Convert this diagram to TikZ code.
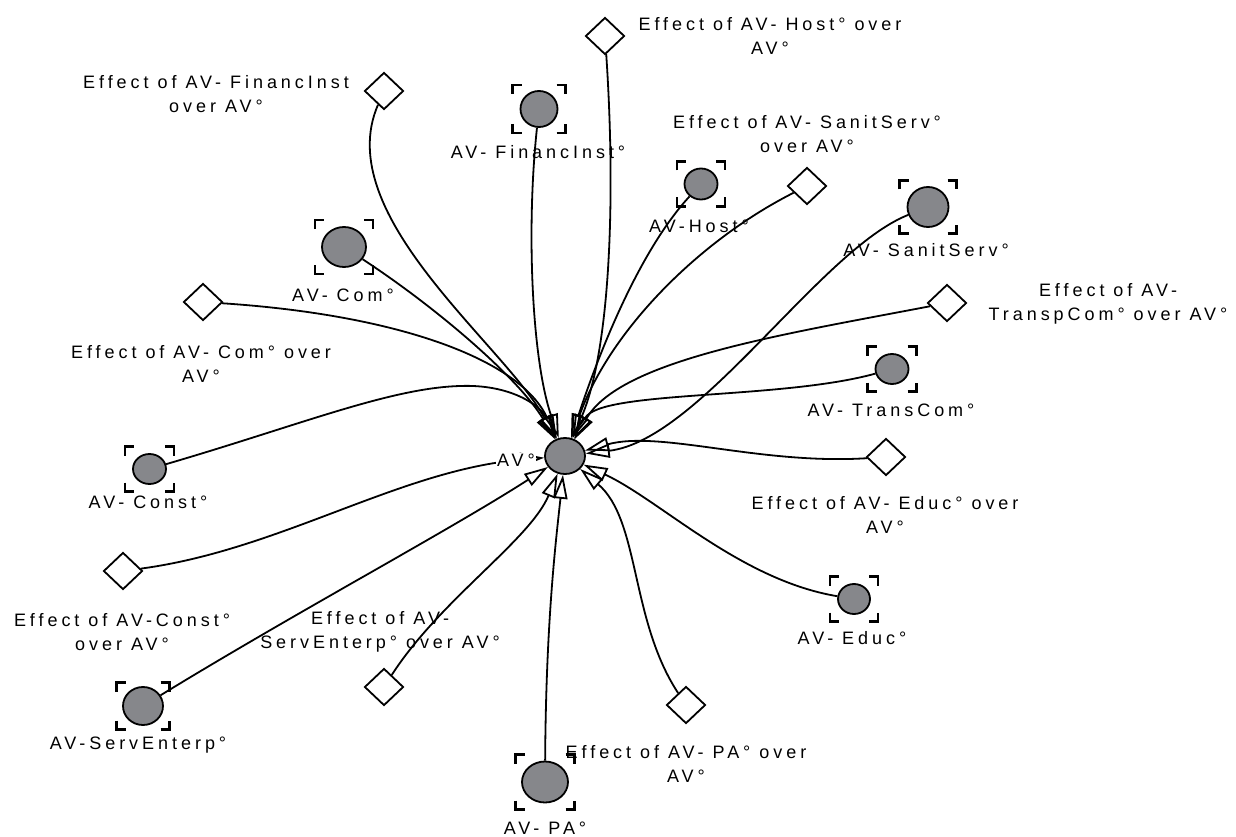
\documentclass[tikz,border=0pt]{standalone}
\usepackage{fontspec}
\setmainfont{Liberation Sans}
\usetikzlibrary{arrows.meta,shapes.geometric}
\definecolor{nodegray}{RGB}{134,135,139}
\newcommand\lblfont{\fontsize{18}{24}\selectfont\addfontfeatures{LetterSpace=22}}
\tikzset{
  avc/.style={ellipse, draw, line width=1.8pt, fill=nodegray, inner sep=0pt},
  dia/.style={diamond, draw, line width=1.8pt, fill=white, minimum width=39pt, minimum height=37pt, inner sep=0pt},
  brk/.style={line width=2.2pt},
  lbl/.style={font=\lblfont, align=center, inner sep=0pt},
  link/.style={line width=1.8pt, -{Triangle[open, length=24pt, width=14pt, line width=1.8pt]}},
  clab/.style={font=\lblfont, fill=white, inner sep=1pt},
}
% #1 name, #2 x, #3 y, #4 w, #5 h, #6 bracket half width, #7 bracket half height
\newcommand\avnode[7]{%
  \node[avc, minimum width=#4pt, minimum height=#5pt] (#1) at (#2,#3) {};
  \begin{scope}[shift={(#1.center)}]
    \draw[brk] (-#6,-#7+9) -- (-#6,-#7) -- (-#6+9,-#7);
    \draw[brk] (#6-9,-#7) -- (#6,-#7) -- (#6,-#7+9);
    \draw[brk] (-#6,#7-9) -- (-#6,#7) -- (-#6+9,#7);
    \draw[brk] (#6-9,#7) -- (#6,#7) -- (#6,#7-9);
  \end{scope}}
\begin{document}
\begin{tikzpicture}[x=1pt,y=-1pt]
\useasboundingbox (0,0) rectangle (1236,837);
% centre
\node[avc, minimum width=40pt, minimum height=36pt] (c) at (565,456) {};
% circle nodes
\avnode{fin}{539}{109}{37}{36}{26.5}{24}
\avnode{host}{701}{184}{33}{31}{24}{22.5}
\avnode{san}{928}{207}{41}{40}{28.5}{26.5}
\avnode{com}{344}{247}{44}{40}{29}{27}
\avnode{trans}{892}{369}{33}{30}{24.5}{22.5}
\avnode{const}{149.5}{469}{33}{30}{24.5}{22.5}
\avnode{educ}{854}{599}{32}{30}{24}{22.5}
\avnode{serv}{143}{706}{40}{38}{26.5}{23.5}
\avnode{pa}{545}{782}{46}{41}{29.5}{27.5}
% circle labels
\node[lbl] (fin-l) at (538,152) {AV- FinancInst°};
\node[lbl] (host-l) at (699,226) {AV-Host°};
\node[lbl] (san-l) at (926,250) {AV- SanitServ°};
\node[lbl] (com-l) at (343,295) {AV- Com°};
\node[lbl] (trans-l) at (891,410) {AV- TransCom°};
\node[lbl] (const-l) at (148,502) {AV- Const°};
\node[lbl] (educ-l) at (852,638) {AV- Educ°};
\node[lbl] (serv-l) at (138,745) {AV-ServEnterp°};
\node[lbl] (pa-l) at (545,828) {AV- PA°};
% diamonds
\node[dia] (hdia) at (605,36) {};
\node[dia] (fdia) at (384,91) {};
\node[dia] (sdia) at (807,186) {};
\node[dia] (cdia) at (203,302) {};
\node[dia] (tdia) at (947,303) {};
\node[dia] (edia) at (886,457) {};
\node[dia] (kdia) at (123,571) {};
\node[dia] (sedia) at (384,687) {};
\node[dia] (pdia) at (686,705) {};
% diamond labels
\node[lbl] (hdia-l) at (770,36) {Effect of AV- Host° over\\AV°};
\node[lbl] (fdia-l) at (216,94) {Effect of AV- FinancInst\\over AV°};
\node[lbl] (sdia-l) at (807,134) {Effect of AV- SanitServ°\\over AV°};
\node[lbl] (cdia-l) at (201,364) {Effect of AV- Com° over\\AV°};
\node[lbl] (tdia-l) at (1108,304) {Effect of AV-\\TranspCom° over AV°};
\node[lbl] (edia-l) at (885,515) {Effect of AV- Educ° over\\AV°};
\node[lbl] (kdia-l) at (122,632) {Effect of AV-Const°\\over AV°};
\node[lbl] (sedia-l) at (380,632) {Effect of AV-\\ServEnterp° over AV°};
\node[lbl] (pdia-l) at (686,764) {Effect of AV- PA° over\\AV°};
% connectors
\draw[link] (fdia) .. controls (330,215) and (505,345) .. (c);
\draw[link] (fin) .. controls (526,230) and (532,360) .. (c);
\draw[link] (hdia) .. controls (616,200) and (610,350) .. (c);
\draw[link] (host) .. controls (640,250) and (600,350) .. (c);
\draw[link] (sdia) .. controls (700,240) and (610,330) .. (c);
\draw[link] (san) .. controls (820,250) and (700,440) .. (c);
\draw[link] (com) .. controls (440,310) and (520,380) .. (c);
\draw[link] (cdia) .. controls (400,315) and (520,360) .. (c);
\draw[link] (const) .. controls (300,425) and (390,388) .. (460,386) .. controls (510,384) and (540,405) .. (c);
\draw[link] (kdia) .. controls (280,550) and (400,470) .. (c);
\draw[link] (serv) .. controls (300,610) and (450,530) .. (c);
\draw[link] (sedia) .. controls (440,600) and (530,540) .. (c);
\draw[link] (pa) .. controls (546,620) and (556,540) .. (c);
\draw[link] (pdia) .. controls (630,620) and (640,520) .. (c);
\draw[link] (educ) .. controls (740,580) and (660,500) .. (c);
\draw[link] (edia) .. controls (760,465) and (660,430) .. (c);
\draw[link] (trans) .. controls (780,400) and (600,390) .. (c);
\draw[link] (tdia) .. controls (780,335) and (620,360) .. (c);
% centre label
\node[clab] (c-l) at (516,460) {AV°};
\end{tikzpicture}
\end{document}
